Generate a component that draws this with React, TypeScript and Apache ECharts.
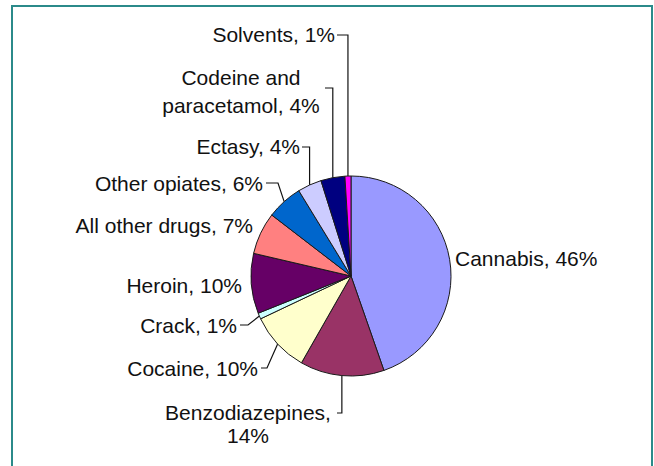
import React, { useEffect, useRef } from 'react';
import * as echarts from 'echarts';

// ---- data ----
const categories = [
  'Cannabis',
  'Benzodiazepines',
  'Cocaine',
  'Crack',
  'Heroin',
  'All other drugs',
  'Other opiates',
  'Ectasy',
  'Codeine and paracetamol',
  'Solvents',
];
const shares = [46, 14, 10, 1, 10, 7, 6, 4, 4, 1];
const sliceColors = [
  '#9999FF',
  '#993366',
  '#FFFFCC',
  '#CCFFFF',
  '#660066',
  '#FF8080',
  '#0066CC',
  '#CCCCFF',
  '#000080',
  '#FF00FF',
];
// text after which a label wraps onto a second line
const breakAfter: (string | null)[] = [null, 'Benzodiazepines,', null, null, null, null, null, null, 'Codeine and', null];

// ---- layout (label placement, not data) ----
const CX = 351;
const CY = 276;
const R = 100;
type Place = {
  x: number;
  y: number;
  align: 'left' | 'right' | 'center';
  lineHeight?: number;
  leader: null | { tickX: number; tickY: number; bendX?: number };
};
const labelPlacement: Place[] = [
  { x: 455, y: 258, align: 'left', leader: null },
  { x: 248, y: 424, align: 'center', lineHeight: 23, leader: { tickX: 337, tickY: 413 } },
  { x: 258, y: 368, align: 'right', leader: { tickX: 261, tickY: 368, bendX: 267 } },
  { x: 237, y: 325, align: 'right', leader: { tickX: 240, tickY: 325, bendX: 248 } },
  { x: 242, y: 285, align: 'right', leader: null },
  { x: 253, y: 225, align: 'right', leader: null },
  { x: 263, y: 183, align: 'right', leader: { tickX: 266, tickY: 183, bendX: 278 } },
  { x: 300, y: 146, align: 'right', leader: { tickX: 302, tickY: 147 } },
  { x: 241, y: 91, align: 'center', lineHeight: 28, leader: { tickX: 325, tickY: 88 } },
  { x: 335, y: 34, align: 'right', leader: { tickX: 337, tickY: 35 } },
];

const total = shares.reduce((a, b) => a + b, 0);
function edgePoint(i: number): number[] {
  let cum = 0;
  for (let k = 0; k < i; k++) cum += shares[k];
  const a = ((cum + shares[i] / 2) / total) * Math.PI * 2;
  return [CX + R * Math.sin(a), CY - R * Math.cos(a)];
}

export default function App() {
  const ref = useRef<HTMLDivElement>(null);
  useEffect(() => {
    if (!ref.current) return;
    const chart = echarts.init(ref.current, undefined, { renderer: 'svg' });
    const data = categories.map((name, i) => {
      const p = labelPlacement[i];
      return {
        name,
        value: shares[i],
        itemStyle: { color: sliceColors[i] },
        label: {
          align: p.align,
          lineHeight: p.lineHeight ?? 24,
        },
        labelLine: { show: !!p.leader },
      };
    });
    chart.setOption({
      animation: false,
      backgroundColor: '#ffffff',
      graphic: [
        {
          type: 'rect',
          silent: true,
          shape: { x: 12, y: 6, width: 640, height: 520 },
          style: { fill: 'none', stroke: '#2b8a8a', lineWidth: 2 },
        },
      ],
      series: [
        {
          type: 'pie',
          center: [CX, CY],
          radius: R,
          startAngle: 90,
          clockwise: true,
          avoidLabelOverlap: false,
          data,
          itemStyle: { borderColor: '#1a1a1a', borderWidth: 1 },
          emphasis: { disabled: true },
          label: {
            show: true,
            position: 'outside',
            color: '#111',
            fontSize: 21,
            fontFamily: '"Liberation Sans", Arial, sans-serif',
            formatter: (params: any) => {
              const i = params.dataIndex;
              let s = `${params.name}, ${params.value}%`;
              const b = breakAfter[i];
              if (b) s = s.replace(b + ' ', b + '\n');
              return s;
            },
          },
          labelLine: {
            show: true,
            smooth: false,
            lineStyle: { color: '#111', width: 1.2 },
          },
          labelLayout: (params: any) => {
            const i = params.dataIndex;
            const p = labelPlacement[i];
            const out: any = { x: p.x, y: p.y, align: p.align, verticalAlign: 'middle' };
            if (p.leader) {
              const e =
                params.labelLinePoints && params.labelLinePoints[0]
                  ? params.labelLinePoints[0]
                  : edgePoint(i);
              const bx = p.leader.bendX ?? e[0];
              out.labelLinePoints = [
                [e[0], e[1]],
                [bx, p.leader.tickY],
                [p.leader.tickX, p.leader.tickY],
              ];
            }
            return out;
          },
        },
      ],
    });
    return () => chart.dispose();
  }, []);
  return (
    <div
      ref={ref}
      style={{ position: 'fixed', left: 0, top: 0, width: 654, height: 466 }}
    />
  );
}
